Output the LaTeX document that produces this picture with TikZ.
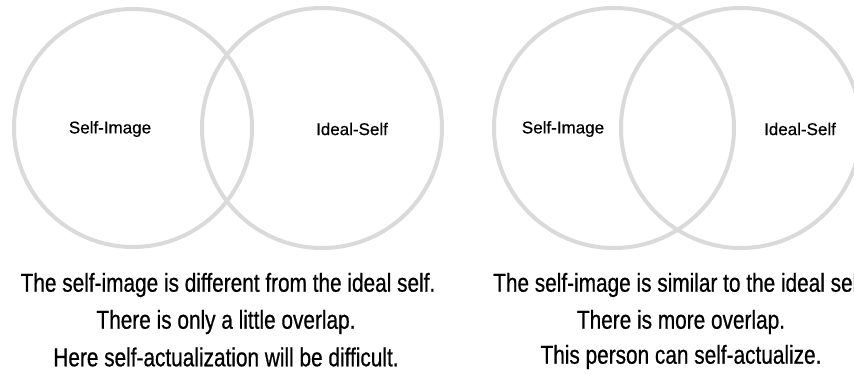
\documentclass[tikz,border=0pt]{standalone}
\usepackage{fontspec}
\setmainfont{Liberation Sans}
\newfontfamily\narrowfont[FakeStretch=0.8,FakeBold=0.6]{Liberation Sans}
\newfontfamily\labelfont[FakeBold=0.5]{Liberation Sans}
\usepackage{tikz}
\usepackage{xcolor}
\definecolor{ringgray}{HTML}{DADADA}

\tikzset{
  ring/.style={draw=ringgray, line width=4pt},
  circlabel/.style={font=\labelfont\fontsize{17}{20}\selectfont, inner sep=0pt},
  caption/.style={font=\narrowfont\fontsize{26}{30}\selectfont, inner sep=0pt}
}

\begin{document}
\begin{tikzpicture}[x=1pt,y=-1pt]
\useasboundingbox (0,0) rectangle (854,374);
\clip (0,0) rectangle (854,374);
% little overlap
\coordinate (imgA) at (133,128);
\coordinate (idlA) at (322,128);
\draw[ring] (imgA) circle[radius=119];
\draw[ring] (idlA) circle[radius=120];
\node[circlabel] (labimgA) at (110,129) {Self-Image};
\node[circlabel] (labidlA) at (352,129) {Ideal-Self};
\node[caption] (capA1) at (228,285) {The self-image is different from the ideal self.};
\node[caption] (capA2) at (226,322) {There is only a little overlap.};
\node[caption] (capA3) at (226,357) {Here self-actualization will be difficult.};

% more overlap
\coordinate (imgB) at (614,128);
\coordinate (idlB) at (741,128);
\draw[ring] (imgB) circle[radius=120];
\draw[ring] (idlB) circle[radius=120];
\node[circlabel] (labimgB) at (563,129) {Self-Image};
\node[circlabel] (labidlB) at (800,129) {Ideal-Self};
\node[caption, anchor=west] (capB1) at (493,285) {The self-image is similar to the ideal self.};
\node[caption] (capB2) at (681,322) {There is more overlap.};
\node[caption] (capB3) at (681,357) {This person can self-actualize.};
\end{tikzpicture}
\end{document}
